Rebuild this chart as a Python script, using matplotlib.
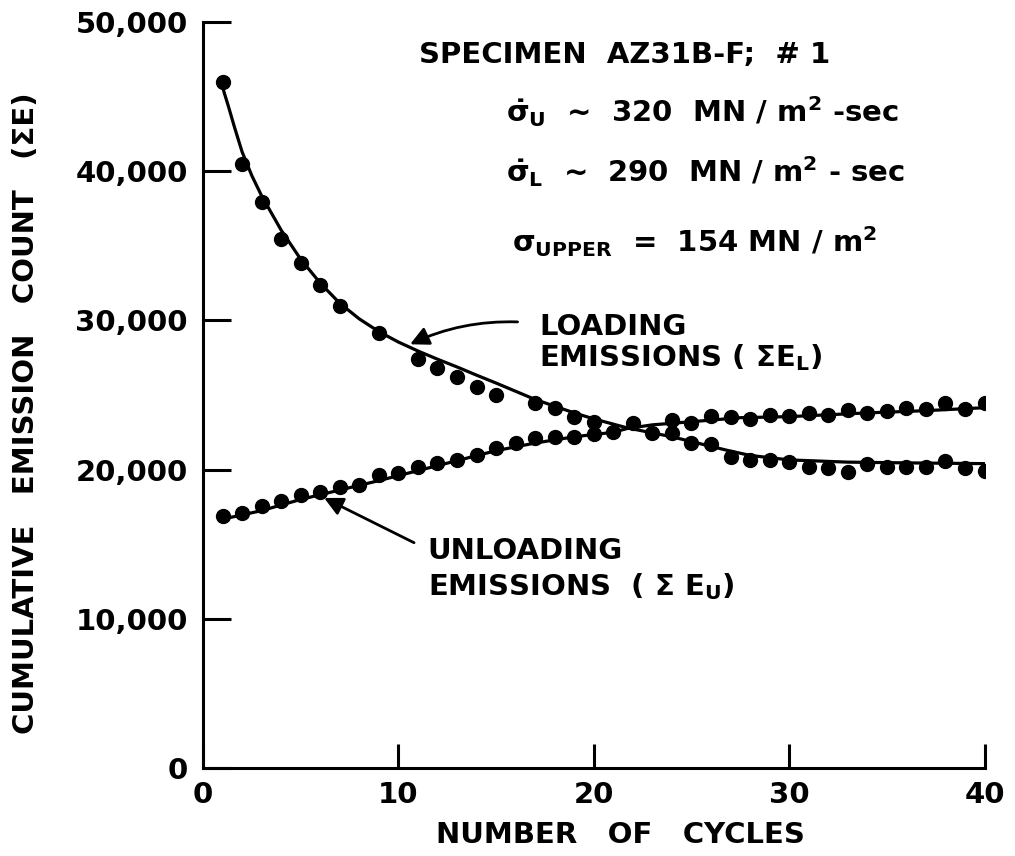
import numpy as np
import matplotlib.pyplot as plt

load_cycles = [1, 2, 3, 4, 5, 6, 7, 9, 11, 12, 13, 14, 15, 17, 18, 19, 20,
               23, 24, 25, 26, 27, 28, 29, 30, 31, 32, 33, 34, 35, 36, 37, 38, 39, 40]
load_counts = [46000, 40480, 37960, 35430, 33830, 32370, 30960, 29180, 27390, 26790,
               26230, 25560, 25000, 24440, 24100, 23550, 23210,
               22430, 22470, 21760, 21720, 20870, 20640, 20640, 20530, 20150, 20090,
               19860, 20380, 20190, 20190, 20150, 20600, 20090, 19930]

unload_cycles = [1, 2, 3, 4, 5, 6, 7, 8, 9, 10, 11, 12, 13, 14, 15, 16, 17, 18, 19, 20,
                 21, 22, 24, 25, 26, 27, 28, 29, 30, 31, 32, 33, 34, 35, 36, 37, 38, 39, 40]
unload_counts = [16890, 17110, 17560, 17920, 18300, 18520, 18850, 18970, 19640, 19790,
                 20150, 20460, 20640, 20980, 21430, 21760, 22100, 22160, 22200, 22390,
                 22540, 23140, 23300, 23140, 23590, 23550, 23370, 23660, 23590, 23770,
                 23660, 23990, 23770, 23950, 24110, 24040, 24480, 24040, 24440]

load_fit_x = [0.9, 1.1, 1.3, 1.6, 2, 2.5, 3, 4, 5, 6, 7, 8, 9, 10, 11, 12, 13, 14, 15,
              16, 17, 19, 20, 21.7, 24, 26.8, 28, 30, 33, 36, 40]
load_fit_y = [46100, 45200, 44350, 43000, 41300, 39700, 38350, 36050, 34100, 32500,
              31150, 30100, 29250, 28550, 27950, 27400, 26880, 26330, 25800, 25250,
              24700, 23800, 23400, 22800, 22200, 21300, 20950, 20650, 20500, 20450, 20400]

unload_fit_x = [0.9, 3, 5, 7, 9, 11, 13, 15, 17, 19, 21, 21.7, 23, 25, 27.5, 30, 34, 37, 40]
unload_fit_y = [16650, 17250, 18000, 18630, 19260, 19930, 20600, 21270, 21780, 22200,
                22500, 22750, 23000, 23210, 23480, 23550, 23800, 23950, 24150]

x_ticks = [0, 10, 20, 30, 40]
y_ticks = [0, 10000, 20000, 30000, 40000, 50000]
y_tick_labels = ['0', '10,000', '20,000', '30,000', '40,000', '50,000']

plt.rcParams['font.family'] = 'DejaVu Sans'
plt.rcParams['font.weight'] = 'bold'
plt.rcParams['axes.labelweight'] = 'bold'
plt.rcParams['mathtext.default'] = 'bf'

fig = plt.figure(figsize=(10.15, 8.56), dpi=100)
ax = fig.add_axes([0.2, 0.1028, 0.77, 0.8715])

ax.plot(load_fit_x, load_fit_y, color='black', lw=2.3, solid_capstyle='round')
ax.plot(unload_fit_x, unload_fit_y, color='black', lw=2.3, solid_capstyle='round')
ax.plot(load_cycles, load_counts, 'o', color='black', ms=10)
ax.plot(unload_cycles, unload_counts, 'o', color='black', ms=10)

ax.set_xlim(0, 40)
ax.set_ylim(0, 50000)
ax.set_xticks(x_ticks)
ax.set_xticklabels([str(v) for v in x_ticks])
ax.set_yticks(y_ticks)
ax.set_yticklabels(y_tick_labels)

for side in ['top', 'right']:
    ax.spines[side].set_visible(False)
for side in ['left', 'bottom']:
    ax.spines[side].set_linewidth(2.2)

ax.tick_params(axis='y', direction='in', length=20, width=2.2, labelsize=21, pad=11)
ax.tick_params(axis='x', direction='in', length=17, width=2.2, labelsize=21, pad=9)

ax.set_xlabel('NUMBER   OF   CYCLES', fontsize=21)
ax.set_ylabel('CUMULATIVE   EMISSION   COUNT   (\u03a3E)', fontsize=21)
ax.xaxis.set_label_coords(0.534, -0.071)
ax.yaxis.set_label_coords(-0.208, 0.475)

# annotation block
ax.text(21.6, 47800, 'SPECIMEN  AZ31B-F;  # 1', fontsize=21, va='center', ha='center')
ax.text(15.5, 44000, r'$\dot{\sigma}_{\mathbf{U}}$  ~  320  MN / m$^{\mathbf{2}}$ -sec',
        fontsize=21, va='center')
ax.text(15.5, 40000, r'$\dot{\sigma}_{\mathbf{L}}$  ~  290  MN / m$^{\mathbf{2}}$ - sec',
        fontsize=21, va='center')
ax.text(15.8, 35300, r'$\sigma_{\mathbf{UPPER}}$  =  154 MN / m$^{\mathbf{2}}$',
        fontsize=21, va='center')

ax.text(17.2, 28500, 'LOADING\nEMISSIONS ( \u03a3E$_{\mathbf{L}}$)', fontsize=21,
        va='center', linespacing=1.05)
ax.text(11.5, 13300, 'UNLOADING\nEMISSIONS  ( \u03a3 E$_{\mathbf{U}}$)', fontsize=21,
        va='center', linespacing=1.25)

arrow = dict(arrowstyle='-|>', color='black', lw=2, mutation_scale=28,
             shrinkA=0, shrinkB=0)
ax.annotate('', xy=(10.6, 28400), xytext=(16.1, 29900),
            arrowprops=dict(arrow, connectionstyle='arc3,rad=0.12'))
ax.annotate('', xy=(6.2, 18100), xytext=(10.8, 15100),
            arrowprops=dict(arrow, connectionstyle='arc3,rad=0.0'))

fig.savefig('out.png', dpi=100)
